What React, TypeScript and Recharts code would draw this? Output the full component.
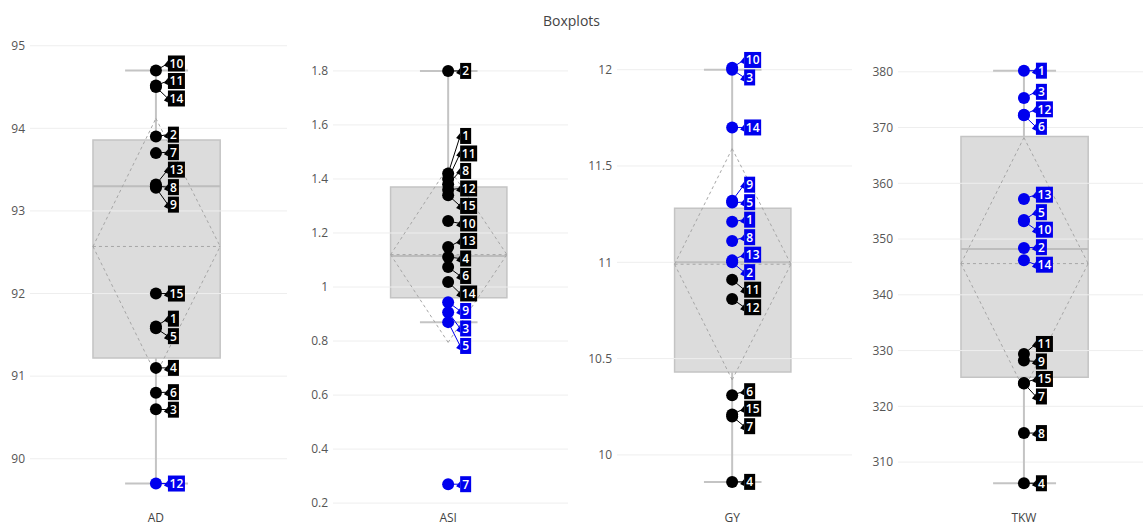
import {
  ComposedChart,
  Scatter,
  XAxis,
  YAxis,
  ReferenceArea,
  ReferenceLine,
} from "recharts";

const variables = ["AD", "ASI", "GY", "TKW"];
const genotypes = ["1", "2", "3", "4", "5", "6", "7", "8", "9", "10", "11", "12", "13", "14", "15"];

// values per genotype (index = genotype - 1)
const adValues = [91.6, 93.9, 90.6, 91.1, 91.58, 90.8, 93.7, 93.3, 93.28, 94.7, 94.52, 89.7, 93.32, 94.5, 92.0];
const asiValues = [1.42, 1.8, 0.907, 1.111, 0.87, 1.074, 0.27, 1.38, 0.944, 1.244, 1.4, 1.36, 1.148, 1.019, 1.34];
const gyValues = [11.21, 11.0, 12.0, 9.86, 11.31, 10.31, 10.2, 11.11, 11.32, 12.01, 10.91, 10.81, 11.01, 11.7, 10.21];
const tkwValues = [380.2, 348.4, 375.3, 306.2, 353.4, 372.2, 324.1, 315.2, 328.2, 353.2, 329.4, 372.3, 357.2, 346.2, 324.2];

// genotypes drawn in blue
const adBlue = ["12"];
const asiBlue = ["3", "5", "7", "9"];
const gyBlue = ["1", "2", "3", "5", "8", "9", "10", "13", "14"];
const tkwBlue = ["1", "2", "3", "5", "6", "10", "12", "13", "14"];

// box statistics
const lowerWhiskers = [89.7, 0.87, 9.86, 306.2];
const q1s = [91.22, 0.96, 10.43, 325.2];
const medians = [93.3, 1.115, 11.0, 348.2];
const q3s = [93.86, 1.37, 11.28, 368.4];
const upperWhiskers = [94.7, 1.8, 12.0, 380.2];
const means = [92.57, 1.12, 10.99, 345.6];
const sds = [1.55, 0.325, 0.6, 22.6];

const yTicks = [
  [90, 91, 92, 93, 94, 95],
  [0.2, 0.4, 0.6, 0.8, 1, 1.2, 1.4, 1.6, 1.8],
  [10, 10.5, 11, 11.5, 12],
  [310, 320, 330, 340, 350, 360, 370, 380],
];
const yDomains = [
  [89.44, 95.13],
  [0.193, 1.933],
  [9.74, 12.18],
  [302.3, 386.6],
];

const allValues = [adValues, asiValues, gyValues, tkwValues];
const allBlue = [adBlue, asiBlue, gyBlue, tkwBlue];

// layout of the four panels
const chartLefts = [0, 290, 580, 865];
const chartWidths = [290, 290, 285, 290];
const yAxisWidths = [30, 43, 37, 33];
const rightMargins = [3, 12, 13, 0];

const CHART_H = 527;
const TOP = 35;
const XAXIS_H = 22;
const PLOT_H = CHART_H - TOP - XAXIS_H;
const CENTER = 0.49;
const BLUE = "#0000ee";
const FONT = "'Open Sans', 'DejaVu Sans', sans-serif";

// simple push-apart so tags don't overlap (like ggrepel)
function repel(vals: number[], gap: number, lo: number, hi: number) {
  const order = vals.map((v, i) => i).sort((a, b) => vals[b] - vals[a]);
  const pos = order.map((i) => vals[i]);
  for (let it = 0; it < 400; it++) {
    for (let k = 1; k < pos.length; k++) {
      const d = pos[k - 1] - pos[k];
      if (d < gap) {
        const s = (gap - d) / 2;
        pos[k - 1] += s;
        pos[k] -= s;
      }
    }
    for (let k = 0; k < pos.length; k++) {
      pos[k] = Math.min(hi - gap / 2, Math.max(lo + gap / 2, pos[k]));
    }
  }
  const out = new Array(vals.length);
  order.forEach((i, k) => (out[i] = pos[k]));
  return out as number[];
}

const Dot = (props: any) => {
  const { cx, cy, payload } = props;
  return <circle cx={cx} cy={cy} r={6} fill={payload.color} />;
};

const Tag = (props: any) => {
  const { cx, cy, payload } = props;
  const w = payload.name.length > 1 ? 17 : 11;
  return (
    <g>
      <polygon points={`${cx},${cy - 3} ${cx - 4},${cy + 2} ${cx},${cy + 4}`} fill={payload.color} />
      <rect x={cx} y={cy - 8} width={w} height={16} fill={payload.color} />
      <text
        x={cx + w / 2}
        y={cy + 4.5}
        textAnchor="middle"
        fill="#fff"
        fontSize={12}
        fontWeight={600}
        fontFamily={FONT}
      >
        {payload.name}
      </text>
    </g>
  );
};

const Nothing = () => <g />;

function Panel({ i }: { i: number }) {
  const vals = allValues[i];
  const blue = allBlue[i];
  const [lo, hi] = yDomains[i];
  const plotW = chartWidths[i] - yAxisWidths[i] - rightMargins[i];
  const gap = (17.5 * (hi - lo)) / PLOT_H;
  const tagYs = repel(vals, gap, lo, hi);
  const tagX = CENTER + 12 / plotW;

  const points = genotypes.map((g, k) => ({
    x: CENTER,
    y: vals[k],
    name: g,
    color: blue.includes(g) ? BLUE : "#000",
  }));
  const tags = genotypes.map((g, k) => ({
    x: tagX,
    y: tagYs[k],
    name: g,
    color: blue.includes(g) ? BLUE : "#000",
  }));

  const boxL = 0.245;
  const boxR = 0.74;
  const capL = 0.37;
  const capR = 0.615;
  const mean = means[i];
  const top = mean + sds[i];
  const bot = mean - sds[i];
  const boxLine = "#c4c4c4";
  const dash = "#a6a6a6";

  return (
    <div style={{ position: "absolute", left: chartLefts[i], top: 0 }}>
      <ComposedChart
        width={chartWidths[i]}
        height={CHART_H}
        margin={{ top: TOP, right: rightMargins[i], bottom: 0, left: 0 }}
      >
        <XAxis
          type="number"
          dataKey="x"
          domain={[0, 1]}
          ticks={[CENTER]}
          tickFormatter={() => variables[i]}
          axisLine={false}
          tickLine={false}
          tickSize={0}
          tickMargin={8}
          height={XAXIS_H}
          tick={{ fill: "#444", fontSize: 12, fontFamily: FONT }}
        />
        <YAxis
          type="number"
          dataKey="y"
          domain={[lo, hi]}
          ticks={yTicks[i]}
          tickFormatter={(v: number) => String(v)}
          axisLine={false}
          tickLine={false}
          tickSize={0}
          tickMargin={5}
          width={yAxisWidths[i]}
          tick={{ fill: "#555", fontSize: 12, fontFamily: FONT }}
        />
        {yTicks[i].map((t) => (
          <ReferenceLine key={"g" + t} y={t} stroke="#eeeeee" strokeWidth={1} />
        ))}
        <ReferenceArea
          x1={boxL}
          x2={boxR}
          y1={q1s[i]}
          y2={q3s[i]}
          fill="#dcdcdc"
          fillOpacity={1}
          stroke={boxLine}
          strokeWidth={1.5}
        />
        <ReferenceLine segment={[{ x: CENTER, y: q3s[i] }, { x: CENTER, y: upperWhiskers[i] }]} stroke={boxLine} strokeWidth={2} />
        <ReferenceLine segment={[{ x: CENTER, y: q1s[i] }, { x: CENTER, y: lowerWhiskers[i] }]} stroke={boxLine} strokeWidth={2} />
        <ReferenceLine segment={[{ x: capL, y: upperWhiskers[i] }, { x: capR, y: upperWhiskers[i] }]} stroke={boxLine} strokeWidth={2} />
        <ReferenceLine segment={[{ x: capL, y: lowerWhiskers[i] }, { x: capR, y: lowerWhiskers[i] }]} stroke={boxLine} strokeWidth={2} />
        <ReferenceLine segment={[{ x: boxL, y: medians[i] }, { x: boxR, y: medians[i] }]} stroke="#bdbdbd" strokeWidth={2} />
        <ReferenceLine segment={[{ x: boxL, y: mean }, { x: boxR, y: mean }]} stroke={dash} strokeDasharray="3 3" />
        <ReferenceLine segment={[{ x: boxL, y: mean }, { x: CENTER, y: top }]} stroke={dash} strokeDasharray="3 3" />
        <ReferenceLine segment={[{ x: CENTER, y: top }, { x: boxR, y: mean }]} stroke={dash} strokeDasharray="3 3" />
        <ReferenceLine segment={[{ x: boxL, y: mean }, { x: CENTER, y: bot }]} stroke={dash} strokeDasharray="3 3" />
        <ReferenceLine segment={[{ x: CENTER, y: bot }, { x: boxR, y: mean }]} stroke={dash} strokeDasharray="3 3" />
        {points.map((p, k) => (
          <Scatter
            key={"c" + k}
            data={[p, tags[k]]}
            line={{ stroke: p.color, strokeWidth: 1 }}
            shape={Nothing}
            isAnimationActive={false}
          />
        ))}
        <Scatter data={points} shape={Dot} isAnimationActive={false} />
        <Scatter data={tags} shape={Tag} isAnimationActive={false} />
      </ComposedChart>
    </div>
  );
}

export default function App() {
  return (
    <div
      style={{
        position: "absolute",
        left: 0,
        top: 0,
        width: 1143,
        height: 527,
        overflow: "hidden",
        background: "#fff",
        fontFamily: FONT,
      }}
    >
      {[0, 1, 2, 3].map((i) => (
        <Panel key={i} i={i} />
      ))}
      <div
        style={{
          position: "absolute",
          top: 11,
          left: 0,
          width: 1143,
          textAlign: "center",
          fontSize: 14,
          color: "#444",
        }}
      >
        Boxplots
      </div>
    </div>
  );
}
